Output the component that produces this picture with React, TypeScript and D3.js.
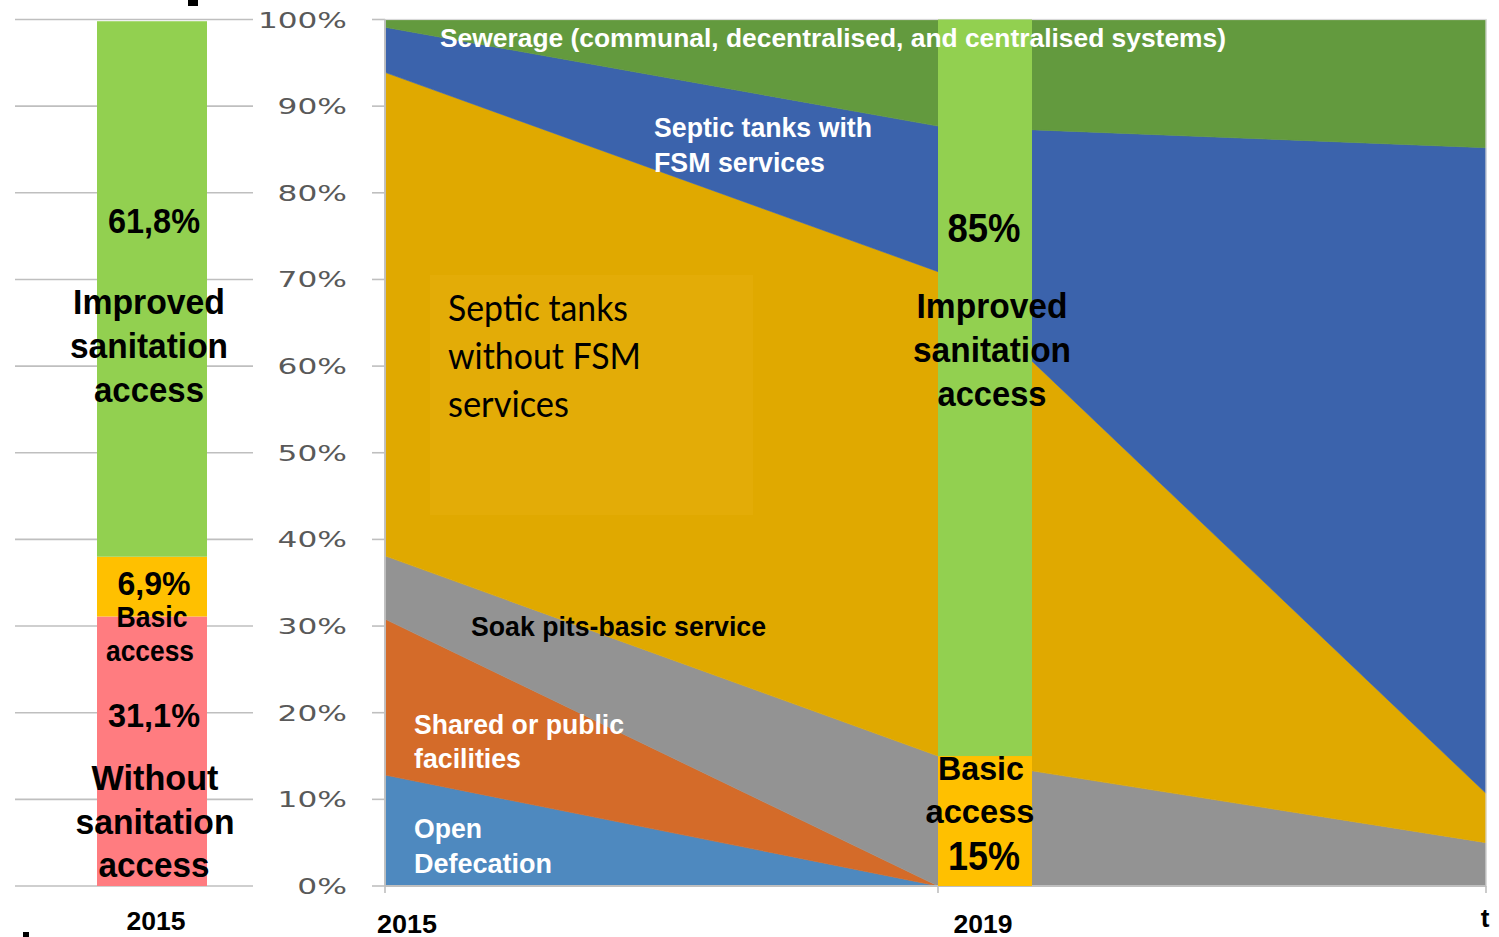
import React from "react";
import * as d3 from "d3";

// ---- Data ----
const periods = ["2015", "2019", "t"];
const openDefecation = [12.8, 0, 0];
const sharedFacilities = [18.0, 0, 0];
const soakPits = [7.3, 15.0, 5.0];
const septicNoFsm = [55.8, 55.9, 5.7];
const septicFsm = [5.2, 16.8, 74.5];
const sewerage = [0.9, 12.3, 14.8];

const seriesKeys = ["open", "shared", "soak", "septicNo", "septicFsm", "sewer"];
const seriesColors = ["#4E89BF", "#D46B29", "#939393", "#E0A900", "#3B63AC", "#639A3E"];

const barCategories = ["Without sanitation access", "Basic access", "Improved sanitation access"];
const bar2015 = [31.1, 6.9, 61.8];
const bar2019 = [0, 15, 85];
const barColors = ["#FF7C80", "#FFC000", "#92D050"];

const yTicks = [0, 10, 20, 30, 40, 50, 60, 70, 80, 90, 100];

const W = 1499;
const H = 937;

export default function App() {
  const y = d3.scaleLinear().domain([0, 100]).range([886, 19.5]);
  const x = d3.scaleLinear().domain([0, 1, 2]).range([385, 938, 1486]);
  const leftBand = d3.scaleBand().domain(["2015"]).range([97, 207]).padding(0);

  const rows = periods.map((p, i) => ({
    period: i,
    open: openDefecation[i],
    shared: sharedFacilities[i],
    soak: soakPits[i],
    septicNo: septicNoFsm[i],
    septicFsm: septicFsm[i],
    sewer: sewerage[i],
  }));
  const stacked = d3.stack<any>().keys(seriesKeys)(rows);
  const area = d3
    .area<any>()
    .x((d) => x(d.data.period))
    .y0((d) => y(d[0]))
    .y1((d) => y(d[1]))
    .curve(d3.curveLinear);

  const stackBar = (vals: number[]) => {
    let acc = 0;
    return vals.map((v) => {
      const s = { y0: acc, y1: acc + v };
      acc += v;
      return s;
    });
  };
  const s2015 = stackBar(bar2015);
  const s2019 = stackBar(bar2019);
  const bar2019X = x(1);
  const bar2019W = 94;

  const bold = "'Liberation Sans', Arial, sans-serif";

  const T = (props: any) => {
    const { text, tl, size, anchor, color, weight, family, ...rest } = props;
    return (
      <text
        {...rest}
        fontFamily={family || bold}
        fontWeight={weight || "bold"}
        fontSize={size}
        fill={color || "#000"}
        textAnchor={anchor || "start"}
        textLength={tl}
        lengthAdjust="spacingAndGlyphs"
      >
        {text}
      </text>
    );
  };

  const tickLen = (label: string) => (label.length - 1) * 19.7 + 30;

  return (
    <svg
      width={W}
      height={H}
      style={{ position: "absolute", left: 0, top: 0, background: "#fff" }}
    >
      <rect x={0} y={0} width={W} height={H} fill="#fff" />

      {/* left panel gridlines */}
      {yTicks.map((t) => (
        <line key={"g" + t} x1={15} x2={253} y1={y(t)} y2={y(t)} stroke="#BFBFBF" strokeWidth={1.6} />
      ))}

      {/* left 2015 bar */}
      {s2015.map((s, i) => (
        <rect
          key={"b15" + i}
          x={leftBand("2015")}
          width={leftBand.bandwidth()}
          y={y(s.y1)}
          height={y(s.y0) - y(s.y1)}
          fill={barColors[i]}
        />
      ))}

      {/* y tick labels */}
      {yTicks.map((t) => (
        <T
          key={"yl" + t}
          x={347}
          y={y(t) + 8}
          text={`${t}%`}
          anchor="end"
          size={22}
          weight="normal"
          family="'DejaVu Sans', sans-serif"
          color="#595959"
          tl={tickLen(`${t}%`)}
        />
      ))}
      {yTicks.map((t) => (
        <line key={"yt" + t} x1={372} x2={385} y1={y(t)} y2={y(t)} stroke="#BFBFBF" strokeWidth={1.6} />
      ))}

      {/* stacked areas */}
      {stacked.map((layer, i) => (
        <path key={"a" + i} d={area(layer) || ""} fill={seriesColors[i]} stroke={seriesColors[i]} strokeWidth={0.6} />
      ))}

      {/* frame */}
      <rect x={385} y={19.5} width={1486 - 385} height={886 - 19.5} fill="none" stroke="#D9D9D9" strokeWidth={1.2} />
      <line x1={385} x2={385} y1={19.5} y2={886} stroke="#BFBFBF" strokeWidth={1.8} />
      <line x1={385} x2={1486} y1={886} y2={886} stroke="#BFBFBF" strokeWidth={1.8} />
      {periods.map((p, i) => (
        <line key={"xt" + i} x1={x(i)} x2={x(i)} y1={886} y2={893} stroke="#BFBFBF" strokeWidth={1.6} />
      ))}

      {/* faint text box */}
      <rect x={430} y={275} width={323} height={240} fill="#E3AC07" />

      {/* area labels */}
      <T x={448} y={321} text="Septic tanks" size={36} weight="normal" family="Lato, 'Open Sans', sans-serif" tl={180} />
      <T x={448} y={369} text="without FSM" size={36} weight="normal" family="Lato, 'Open Sans', sans-serif" tl={193} />
      <T x={448} y={417} text="services" size={36} weight="normal" family="Lato, 'Open Sans', sans-serif" tl={121} />

      <T x={471} y={636} text="Soak pits-basic service" size={27} tl={295} />
      <T x={414} y={734} text="Shared or public" size={27} tl={210} color="#fff" />
      <T x={414} y={768} text="facilities" size={27} tl={107} color="#fff" />
      <T x={414} y={838} text="Open" size={27} tl={68} color="#fff" />
      <T x={414} y={873} text="Defecation" size={27} tl={138} color="#fff" />
      <T x={654} y={137} text="Septic tanks with" size={27} tl={218} color="#fff" />
      <T x={654} y={172} text="FSM services" size={27} tl={171} color="#fff" />

      {/* 2019 bar */}
      {s2019.map((s, i) =>
        s.y1 > s.y0 ? (
          <rect
            key={"b19" + i}
            x={bar2019X}
            width={bar2019W}
            y={y(s.y1)}
            height={y(s.y0) - y(s.y1)}
            fill={barColors[i]}
          />
        ) : null
      )}

      <T x={440} y={47} text="Sewerage (communal, decentralised, and centralised systems)" size={26} tl={786} color="#fff" />

      {/* left bar labels */}
      <T x={154} y={233} text="61,8%" size={35} tl={92} anchor="middle" />
      <T x={149} y={314} text="Improved" size={35} tl={152} anchor="middle" />
      <T x={149} y={358} text="sanitation" size={35} tl={158} anchor="middle" />
      <T x={149} y={402} text="access" size={35} tl={110} anchor="middle" />
      <T x={154} y={595} text="6,9%" size={33} tl={73} anchor="middle" />
      <T x={152} y={627} text="Basic" size={29} tl={71} anchor="middle" />
      <T x={150} y={661} text="access" size={29} tl={88} anchor="middle" />
      <T x={154} y={727} text="31,1%" size={34} tl={92} anchor="middle" />
      <T x={155} y={790} text="Without" size={35} tl={127} anchor="middle" />
      <T x={155} y={834} text="sanitation" size={35} tl={159} anchor="middle" />
      <T x={154} y={877} text="access" size={35} tl={111} anchor="middle" />

      {/* 2019 bar labels */}
      <T x={bar2019X + 46} y={242} text="85%" size={40} tl={73} anchor="middle" />
      <T x={bar2019X + 54} y={318} text="Improved" size={35} tl={151} anchor="middle" />
      <T x={bar2019X + 54} y={362} text="sanitation" size={35} tl={158} anchor="middle" />
      <T x={bar2019X + 54} y={406} text="access" size={35} tl={109} anchor="middle" />
      <T x={bar2019X + 43} y={780} text="Basic" size={33} tl={86} anchor="middle" />
      <T x={bar2019X + 42} y={823} text="access" size={33} tl={109} anchor="middle" />
      <T x={bar2019X + 46} y={870} text="15%" size={40} tl={72} anchor="middle" />

      {/* x labels */}
      <T x={(leftBand("2015") as number) + leftBand.bandwidth() / 2 + 4} y={930} text="2015" size={26} tl={59} anchor="middle" />
      <T x={x(0) - 8} y={933} text={periods[0]} size={26} tl={60} />
      <T x={bar2019X + 45} y={933} text={periods[1]} size={26} tl={59} anchor="middle" />
      <T x={x(2) - 1} y={927} text={periods[2]} size={26} anchor="middle" />

      {/* fragments of cropped text */}
      <rect x={188} y={0} width={10} height={6} fill="#000" />
      <rect x={23} y={932} width={6} height={5} fill="#000" />
    </svg>
  );
}
